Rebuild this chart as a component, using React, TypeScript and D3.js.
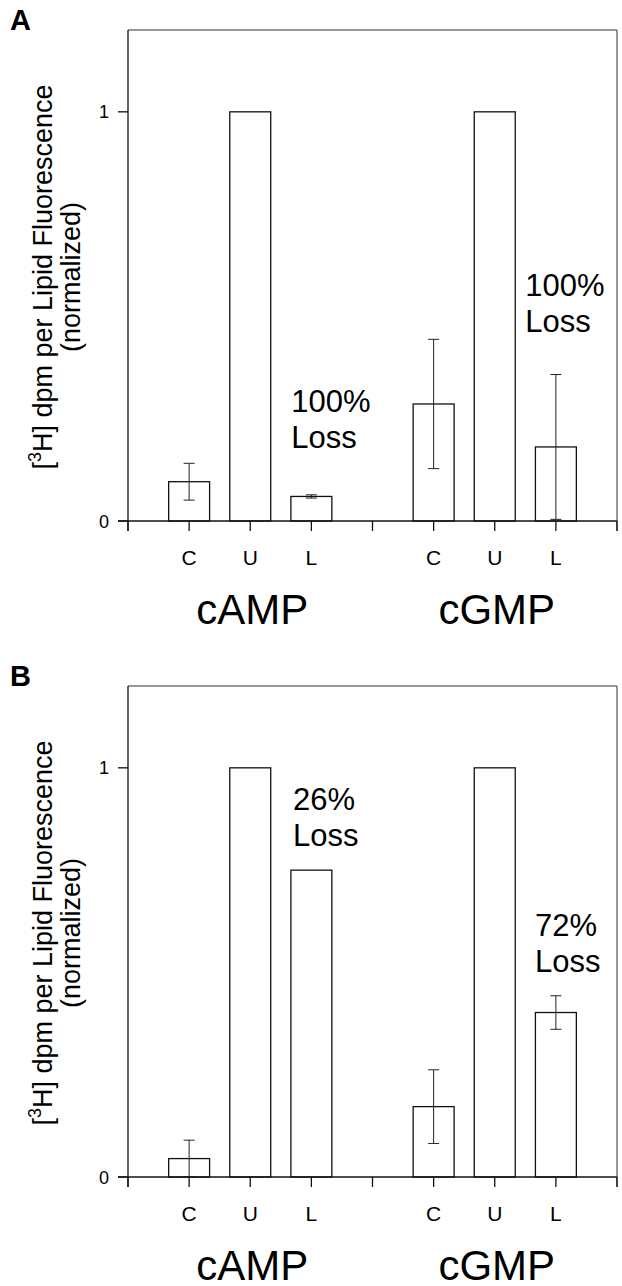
import React from "react";
import * as d3 from "d3";

const categories = ["C", "U", "L"];
const groups = ["cAMP", "cGMP"];
const yTicks = [0, 1];

// Panel A
const aCampValues = [0.096, 1, 0.06];
const aCampErrors = [0.045, 0, 0.004];
const aCgmpValues = [0.286, 1, 0.181];
const aCgmpErrors = [0.158, 0, 0.177];

// Panel B
const bCampValues = [0.045, 1, 0.75];
const bCampErrors = [0.045, 0, 0];
const bCgmpValues = [0.172, 1, 0.402];
const bCgmpErrors = [0.09, 0, 0.041];

const aNotes = [["100%", "Loss"], ["100%", "Loss"]];
const bNotes = [["26%", "Loss"], ["72%", "Loss"]];

const FONT = "'Liberation Sans', Arial, Helvetica, sans-serif";

type PanelProps = {
  letter: string;
  top: number;
  values: number[][];
  errors: number[][];
  notes: string[][];
  notePos: [number, number][];
};

function Panel({ letter, top, values, errors, notes, notePos }: PanelProps) {
  const left = 128;
  const right = 617;
  const plotH = 491;
  const zeroY = top + plotH;
  const x = d3.scaleLinear().domain([0, 8]).range([left, right]);
  const y = d3.scaleLinear().domain([0, 1.2]).range([zeroY, top]);
  const barW = x(0.67) - x(0);
  const cap = 5.5;
  const groupStart = [1, 5];

  return (
    <g>
      <text x={10} y={top} fontFamily={FONT} fontWeight="bold" fontSize={29}>
        {letter}
      </text>
      {/* frame */}
      <line x1={left} x2={right} y1={top} y2={top} stroke="#333" strokeWidth={1} />
      <line x1={right} x2={right} y1={top} y2={zeroY + 10} stroke="#333" strokeWidth={1} />
      {/* bars */}
      {groups.map((g, gi) =>
        categories.map((c, ci) => {
          const pos = groupStart[gi] + ci;
          const v = values[gi][ci];
          const e = errors[gi][ci];
          const cx = x(pos);
          return (
            <g key={g + c}>
              <rect
                x={cx - barW / 2}
                y={y(v)}
                width={barW}
                height={y(0) - y(v)}
                fill="#fff"
                stroke="#111"
                strokeWidth={1.3}
              />
              {e > 0 && (
                <g stroke="#222" strokeWidth={1}>
                  <line x1={cx} x2={cx} y1={y(v + e)} y2={y(Math.max(0, v - e))} />
                  <line x1={cx - cap} x2={cx + cap} y1={y(v + e)} y2={y(v + e)} />
                  <line x1={cx - cap} x2={cx + cap} y1={y(Math.max(0, v - e))} y2={y(Math.max(0, v - e))} />
                </g>
              )}
            </g>
          );
        })
      )}
      {/* axes */}
      <line x1={left} x2={left} y1={top} y2={zeroY + 10} stroke="#111" strokeWidth={1.3} />
      <line x1={left - 10} x2={right} y1={zeroY} y2={zeroY} stroke="#111" strokeWidth={1.3} />
      {yTicks.map((t) => (
        <g key={t}>
          <line x1={left - 10} x2={left} y1={y(t)} y2={y(t)} stroke="#111" strokeWidth={1.3} />
          <text
            x={left - 19}
            y={y(t) + 6.5}
            textAnchor="end"
            fontFamily={FONT}
            fontSize={18}
          >
            {t}
          </text>
        </g>
      ))}
      {d3.range(0, 9).map((t) => (
        <line key={t} x1={x(t)} x2={x(t)} y1={zeroY} y2={zeroY + 10} stroke="#111" strokeWidth={1.3} />
      ))}
      {groups.map((g, gi) =>
        categories.map((c, ci) => (
          <text
            key={g + c + "l"}
            x={x(groupStart[gi] + ci)}
            y={zeroY + 44}
            textAnchor="middle"
            fontFamily={FONT}
            fontSize={21}
          >
            {c}
          </text>
        ))
      )}
      {groups.map((g, gi) => (
        <text
          key={g}
          x={x(groupStart[gi] + 1) + 2}
          y={zeroY + 103}
          textAnchor="middle"
          fontFamily={FONT}
          fontSize={42}
        >
          {g}
        </text>
      ))}
      {/* annotations */}
      {notes.map((n, i) => (
        <text key={i} fontFamily={FONT} fontSize={31} x={x(notePos[i][0])} y={y(notePos[i][1])}>
          <tspan x={x(notePos[i][0])}>{n[0]}</tspan>
          <tspan x={x(notePos[i][0])} dy={36}>
            {n[1]}
          </tspan>
        </text>
      ))}
      {/* y label */}
      <g transform={`translate(52, ${top + 247}) rotate(-90)`}>
        <text textAnchor="middle" fontFamily={FONT} fontSize={27}>
          [<tspan fontSize={18} dy={-11}>3</tspan>
          <tspan dy={11}>H] dpm per Lipid Fluorescence</tspan>
        </text>
        <text textAnchor="middle" y={28} fontFamily={FONT} fontSize={27}>
          (normalized)
        </text>
      </g>
    </g>
  );
}

export default function App() {
  return (
    <svg
      width={622}
      height={1286}
      style={{ position: "absolute", left: 0, top: 0, background: "#fff" }}
    >
      <rect x={0} y={0} width={622} height={1286} fill="#fff" />
      <Panel
        letter="A"
        top={30}
        values={[aCampValues, aCgmpValues]}
        errors={[aCampErrors, aCgmpErrors]}
        notes={aNotes}
        notePos={[
          [2.67, 0.266],
          [6.5, 0.551],
        ]}
      />
      <Panel
        letter="B"
        top={686}
        values={[bCampValues, bCgmpValues]}
        errors={[bCampErrors, bCgmpErrors]}
        notes={bNotes}
        notePos={[
          [2.7, 0.897],
          [6.66, 0.589],
        ]}
      />
    </svg>
  );
}
